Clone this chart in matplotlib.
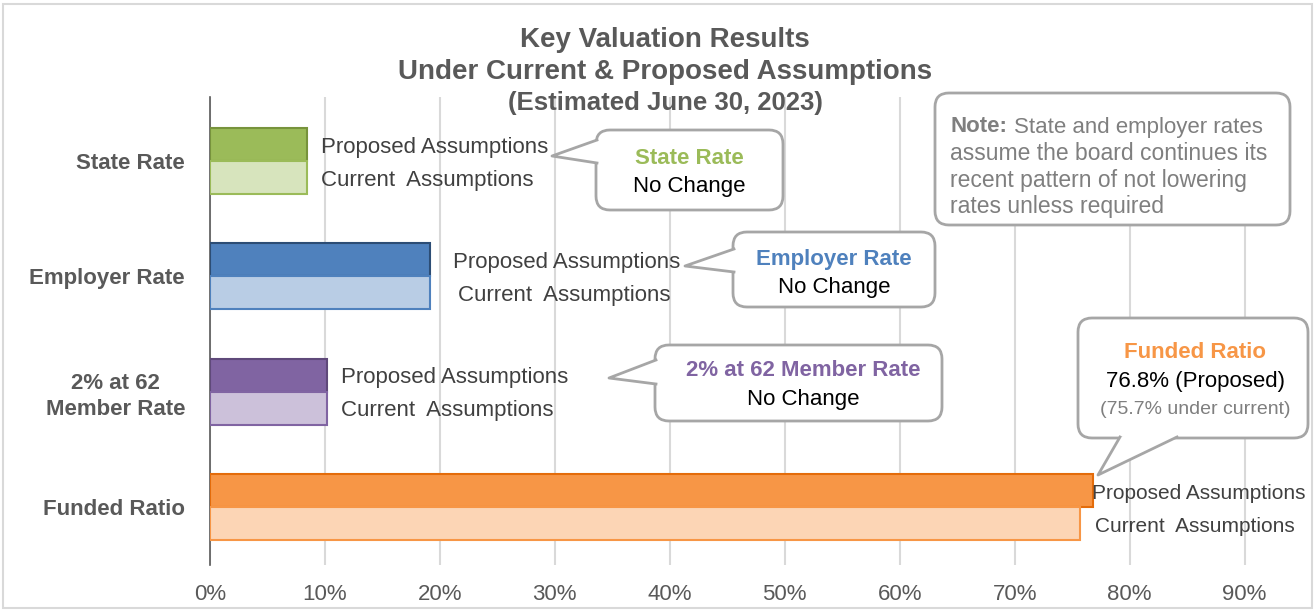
import matplotlib.pyplot as plt
from matplotlib.patches import FancyBboxPatch, Polygon, Rectangle
from matplotlib.lines import Line2D
from matplotlib.transforms import IdentityTransform
from matplotlib.ticker import FuncFormatter

plt.rcParams['font.family'] = ['Liberation Sans', 'DejaVu Sans']

# ---- data ----
categories = ['State Rate', 'Employer Rate', '2% at 62\nMember Rate', 'Funded Ratio']
proposed = [8.4, 19.1, 10.2, 76.8]
current = [8.4, 19.1, 10.2, 75.7]
x_ticks = [0, 10, 20, 30, 40, 50, 60, 70, 80, 90]

dark_cols = ['#9BBB59', '#4F81BD', '#8064A2', '#F79646']
dark_edges = ['#77933C', '#2C4D75', '#5F497A', '#E46C0A']
light_cols = ['#D7E4BD', '#B9CDE5', '#CCC1DA', '#FCD5B5']
light_edges = ['#9BBB59', '#4F81BD', '#8064A2', '#F79646']

# label offsets (px) after each bar end: (proposed, current), and font size
lbl_off = [(14, 14), (23, 28), (14, 14), (-1, 15)]
lbl_size = [16, 16, 16, 15]

W, H = 1315, 611
fig = plt.figure(figsize=(W / 100, H / 100), dpi=100)
ax = fig.add_axes([210 / W, 1 - 565 / H, (1302 - 210) / W, (565 - 97) / H])

h = 0.286
ypos = list(range(len(categories)))
for i in ypos:
    ax.barh(i - h / 2, proposed[i], height=h, color=dark_cols[i], edgecolor=dark_edges[i], lw=1.5, zorder=3)
    ax.barh(i + h / 2, current[i], height=h, color=light_cols[i], edgecolor=light_edges[i], lw=1.5, zorder=3)
    ax.annotate('Proposed Assumptions', xy=(proposed[i], i - h / 2),
                xytext=(lbl_off[i][0] * 0.72, -2), textcoords='offset points',
                ha='left', va='center', fontsize=lbl_size[i], color='#404040')
    ax.annotate('Current  Assumptions', xy=(current[i], i + h / 2),
                xytext=(lbl_off[i][1] * 0.72, -2), textcoords='offset points',
                ha='left', va='center', fontsize=lbl_size[i], color='#404040')

ax.set_xlim(0, 95)
ax.set_ylim(3.503, -0.555)
ax.set_xticks(x_ticks)
ax.xaxis.set_major_formatter(FuncFormatter(lambda v, p: f'{v:.0f}%'))
ax.set_yticks(ypos)
ax.set_yticklabels(categories, fontsize=16, fontweight='bold', color='#595959', multialignment='center',
                   linespacing=1.3)
ax.tick_params(axis='x', labelsize=16, labelcolor='#595959', length=0, pad=14)
ax.tick_params(axis='y', length=0, pad=18)
ax.grid(axis='x', color='#D9D9D9', lw=1.5, zorder=0)
ax.set_axisbelow(True)
for s in ['top', 'right', 'bottom']:
    ax.spines[s].set_visible(False)
ax.spines['left'].set_color('#595959')
ax.spines['left'].set_linewidth(1.2)
ax.spines['left'].set_zorder(2.5)

# ---- title ----
fig.text(665 / W, 1 - 40 / H, 'Key Valuation Results', ha='center', va='center',
         fontsize=20, fontweight='bold', color='#595959')
fig.text(665 / W, 1 - 72 / H, 'Under Current & Proposed Assumptions', ha='center', va='center',
         fontsize=20, fontweight='bold', color='#595959')
fig.text(665 / W, 1 - 103 / H, '(Estimated June 30, 2023)', ha='center', va='center',
         fontsize=18.5, fontweight='bold', color='#595959')

# ---- callouts (pixel coords, origin top-left) ----
T = IdentityTransform()
EC = '#A6A6A6'


def px(x, y):
    return (x, H - y)


def bubble(x0, y0, x1, y1, tail=None):
    box = FancyBboxPatch(px(x0, y1), x1 - x0, y1 - y0, boxstyle='round,pad=0,rounding_size=14',
                         transform=T, facecolor='white', edgecolor=EC, lw=2, zorder=10)
    fig.patches.append(box)
    if tail:
        b1, tip, b2, inner = tail
        fig.patches.append(Polygon([px(*b1), px(*tip), px(*b2), px(*inner)], closed=True,
                                   transform=T, facecolor='white', edgecolor='none', zorder=11))
        xs, ys = zip(*[px(*b1), px(*tip), px(*b2)])
        fig.lines.append(Line2D(xs, ys, transform=T, color=EC, lw=2, zorder=12))


bubble(596, 130, 783, 210, ((597, 140), (552, 156), (597, 163), (605, 152)))
bubble(733, 232, 935, 307, ((734, 249), (685, 266), (734, 272), (742, 260)))
bubble(655, 345, 942, 421, ((656, 360), (609, 378), (656, 384), (664, 372)))
bubble(1078, 318, 1308, 438, ((1120, 437), (1098, 475), (1177, 437), (1150, 428)))
bubble(935, 93, 1290, 225)


def ftext(x, y, s, **kw):
    fig.text(x / W, 1 - y / H, s, va='center', zorder=13, **kw)


ftext(689, 159, 'State Rate', ha='center', fontsize=16, fontweight='bold', color=dark_cols[0])
ftext(689, 187, 'No Change', ha='center', fontsize=16, color='black')
ftext(834, 259, 'Employer Rate', ha='center', fontsize=16, fontweight='bold', color=dark_cols[1])
ftext(834, 287, 'No Change', ha='center', fontsize=16, color='black')
ftext(803, 371, '2% at 62 Member Rate', ha='center', fontsize=16, fontweight='bold', color=dark_cols[2])
ftext(803, 399, 'No Change', ha='center', fontsize=16, color='black')
ftext(1195, 353, 'Funded Ratio', ha='center', fontsize=16, fontweight='bold', color=dark_cols[3])
ftext(1195, 382, f'{proposed[3]}% (Proposed)', ha='center', fontsize=16, color='black')
ftext(1195, 409, f'({current[3]}% under current)', ha='center', fontsize=14, color='#7F7F7F')

note_lines = ['State and employer rates', 'assume the board continues its',
              'recent pattern of not lowering', 'rates unless required']
ftext(950, 127, 'Note:', ha='left', fontsize=16, fontweight='bold', color='#7F7F7F')
ftext(1014, 127, note_lines[0], ha='left', fontsize=16, color='#7F7F7F')
for k, line in enumerate(note_lines[1:]):
    ftext(950, 153 + 27 * k, line, ha='left', fontsize=16.5, color='#7F7F7F')

# outer border
fig.patches.append(Rectangle((3, 3), W - 6, H - 7, transform=T, fill=False, edgecolor='#D9D9D9', lw=1.5))

fig.savefig('out.png', dpi=100)
